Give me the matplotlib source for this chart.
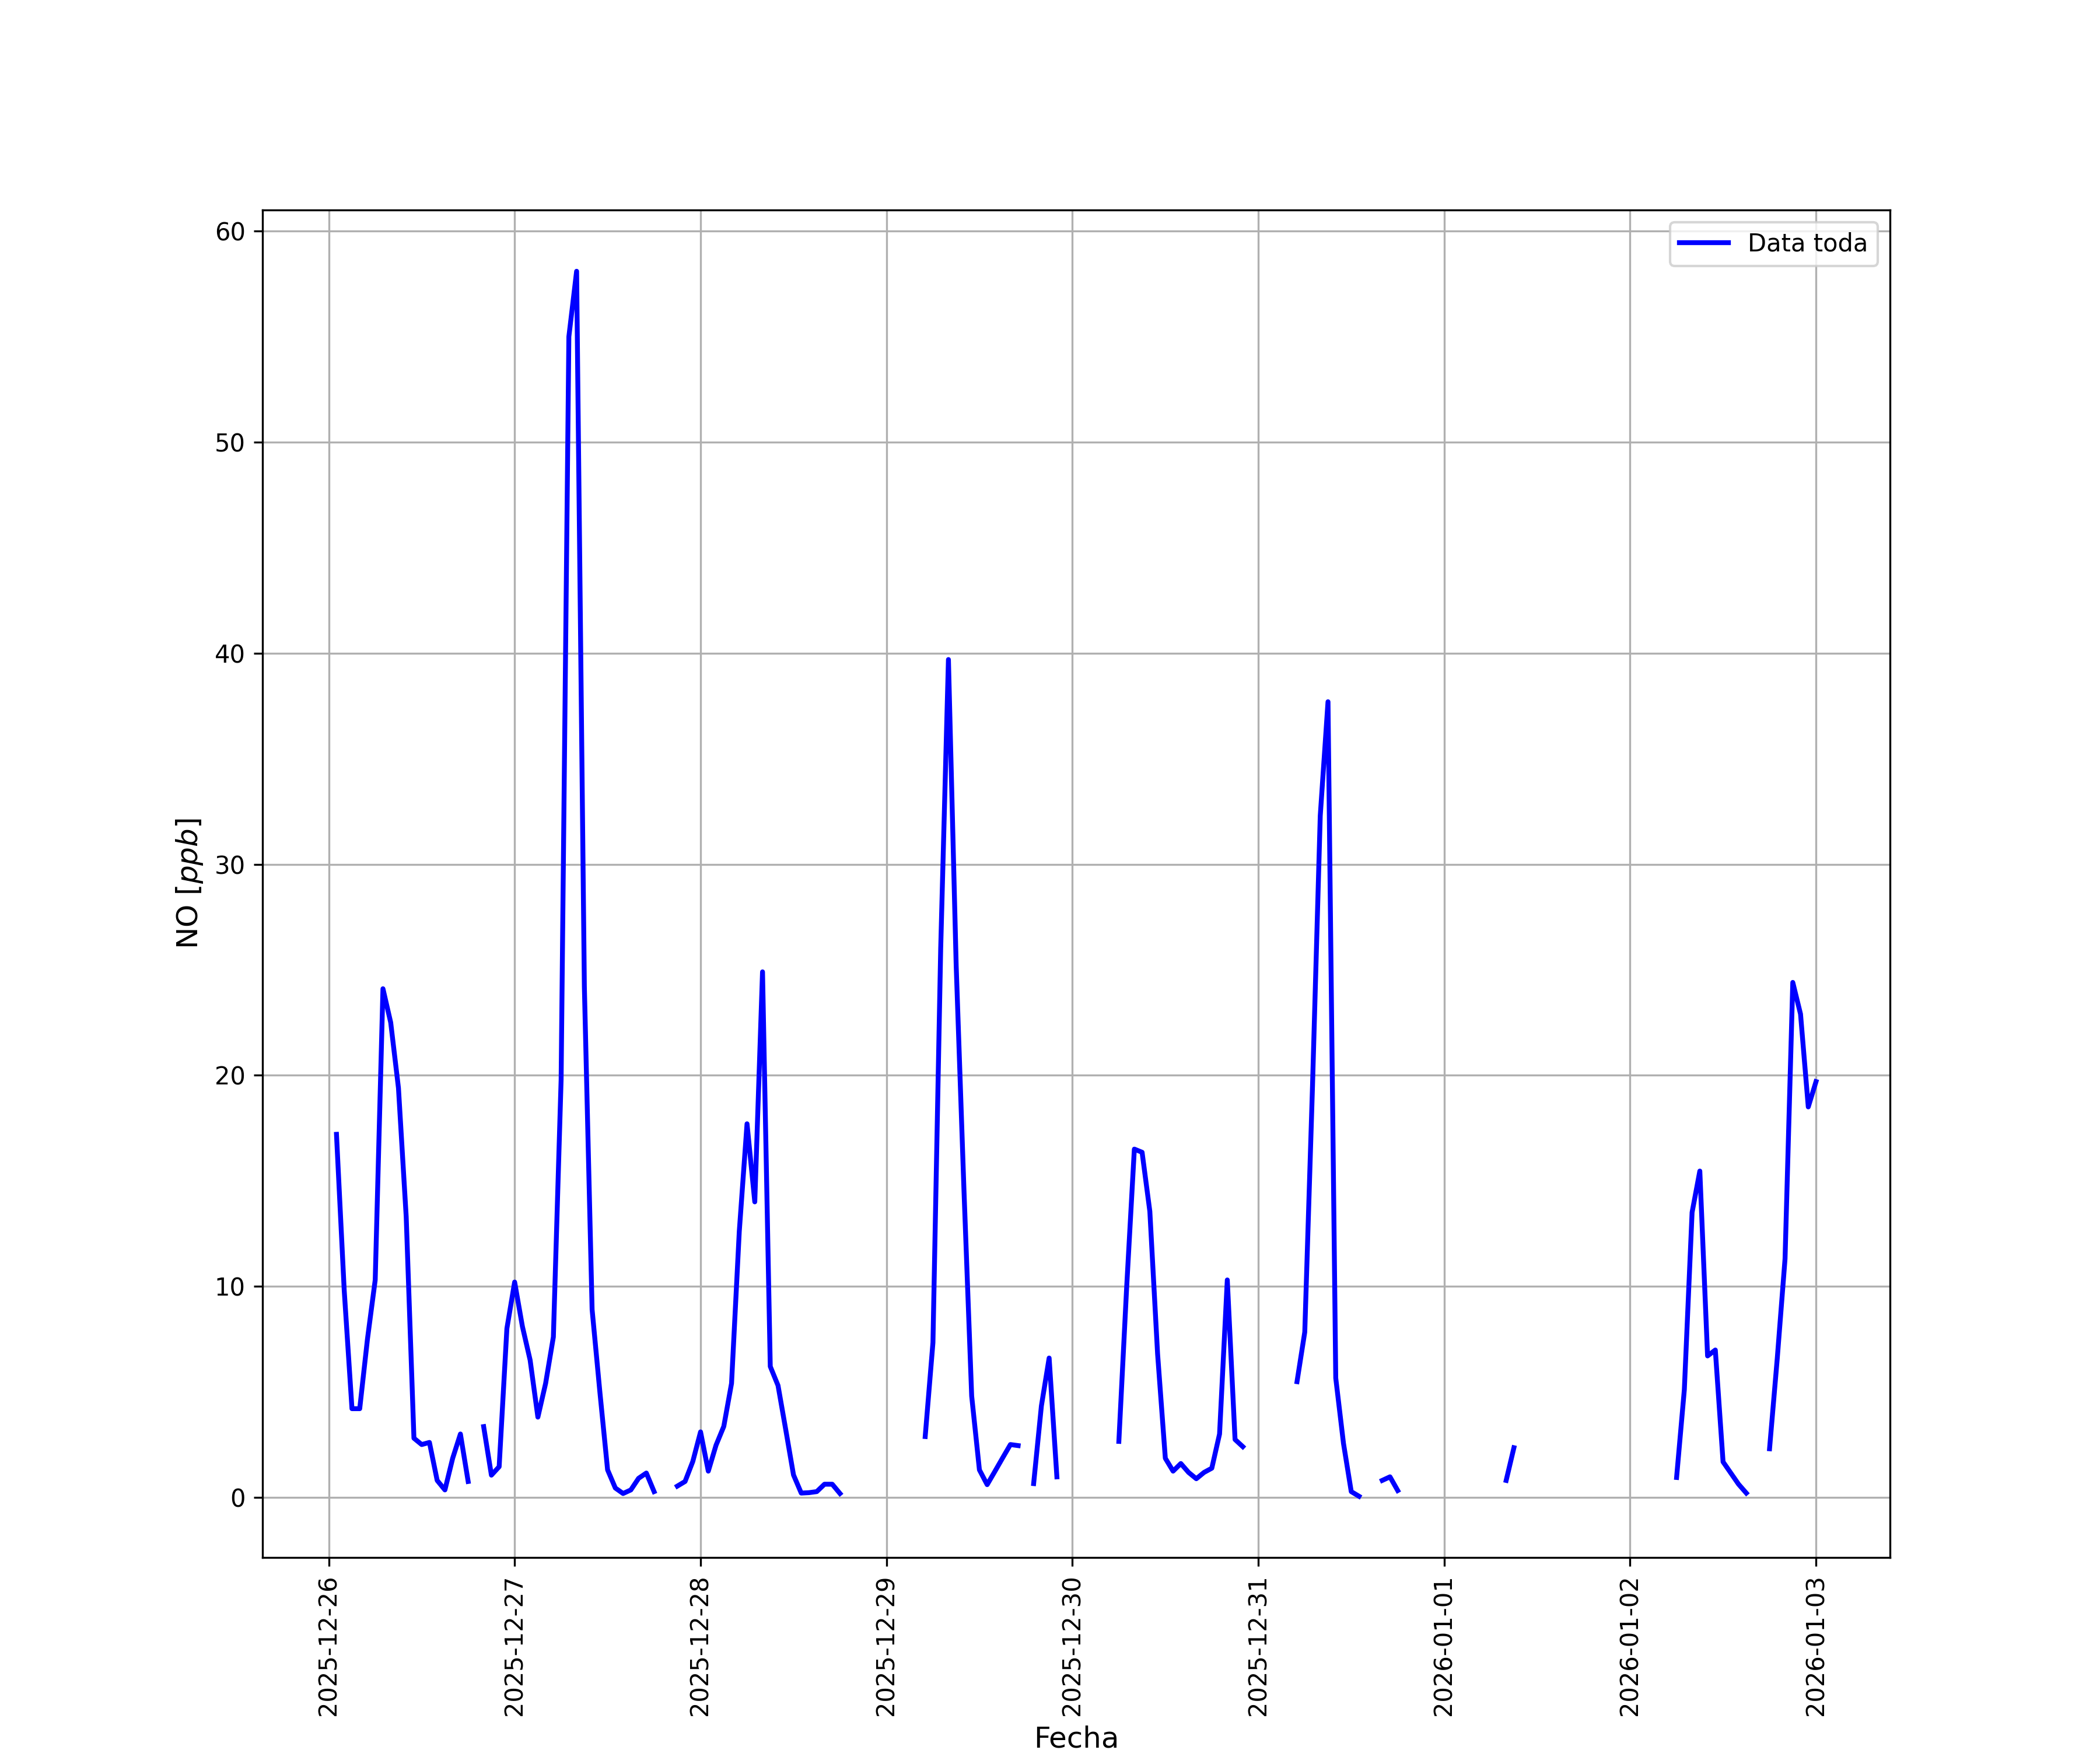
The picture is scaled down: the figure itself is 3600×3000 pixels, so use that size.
import numpy as np
import pandas as pd
import matplotlib
matplotlib.use("Agg")
import matplotlib.pyplot as plt

nan = np.nan

# hourly NO values, one list per day (hours 01:00 .. 24:00)
dia_26 = [17.2, 9.8, 4.2, 4.2, 7.5, 10.3, 24.1, 22.5, 19.4, 13.3, 2.8, 2.5,
          2.6, 0.8, 0.35, 1.85, 3.0, 0.75, nan, 3.35, 1.05, 1.45, 8.0, 10.2]
dia_27 = [8.1, 6.5, 3.8, 5.4, 7.6, 19.8, 55.0, 58.1, 24.2, 8.9, 5.0, 1.3,
          0.44, 0.18, 0.35, 0.9, 1.15, 0.27, nan, nan, 0.53, 0.75, 1.7, 3.1]
dia_28 = [1.24, 2.47, 3.36, 5.4, 12.6, 17.7, 14.0, 24.9, 6.2, 5.3, 3.2, 1.06,
          0.2, 0.22, 0.27, 0.62, 0.62, 0.18, nan, nan, nan, nan, nan, nan]
dia_29 = [nan, nan, nan, nan, 2.88, 7.33, 26.0, 39.7, 25.2, 14.6, 4.8, 1.3,
          0.6, 1.23, 1.87, 2.5, 2.45, nan, 0.65, 4.33, 6.6, 0.97, nan, nan]
dia_30 = [nan, nan, nan, nan, nan, 2.65, 9.9, 16.5, 16.35, 13.55, 6.8, 1.85,
          1.24, 1.6, 1.18, 0.88, 1.18, 1.38, 3.0, 10.3, 2.74, 2.4, nan, nan]
dia_31 = [nan, nan, nan, nan, 5.48, 7.83, 19.5, 32.3, 37.7, 5.65, 2.55, 0.27,
          0.05, nan, nan, 0.8, 0.97, 0.32, nan, nan, nan, nan, nan, nan]
dia_01 = [nan, nan, nan, nan, nan, nan, nan, 0.8, 2.35, nan, nan, nan,
          nan, nan, nan, nan, nan, nan, nan, nan, nan, nan, nan, nan]
dia_02 = [nan, nan, nan, nan, nan, 0.94, 5.1, 13.5, 15.46, 6.7, 6.98, 1.68,
          1.15, 0.62, 0.2, nan, nan, 2.3, 6.6, 11.3, 24.4, 22.9, 18.5, 19.7]

valores = dia_26 + dia_27 + dia_28 + dia_29 + dia_30 + dia_31 + dia_01 + dia_02
fechas = pd.date_range("2025-12-26 01:00", periods=len(valores), freq="h")

plt.figure(figsize=(12, 10))
plt.plot(fechas, valores, color='b', linewidth=2, label='Data toda')
plt.xlabel('Fecha', fontsize=12)
plt.ylabel('NO [$ppb$]', fontsize=12)
plt.xticks(rotation=90)
plt.legend(loc='upper right')
plt.grid(True)
plt.savefig('out.png', dpi=300)
